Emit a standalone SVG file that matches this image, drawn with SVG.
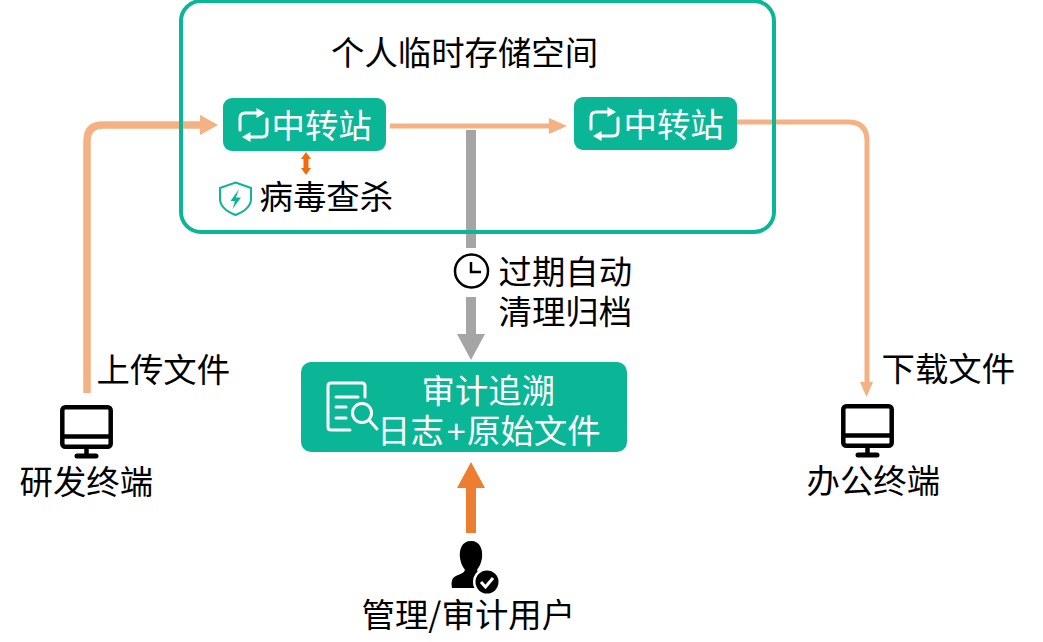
<svg xmlns="http://www.w3.org/2000/svg" width="1043" height="642" viewBox="0 0 1043 642">
<defs>
<style>
text{font-family:"Liberation Sans","Noto Sans CJK SC",sans-serif;font-size:33.4px;fill:#000}
.cjk{font-family:"Noto Sans CJK SC",sans-serif}
.w{fill:#fff}
.box{fill:#0BB696}
.ic{fill:none;stroke:#fff;stroke-width:3;stroke-linecap:round;stroke-linejoin:round}
.mon{fill:none;stroke:#000;stroke-width:4.5;stroke-linejoin:round}
.pe{fill:none;stroke:#F4B183}
.pf{fill:#F4B183}
</style>
<g id="rep"><path class="ic" d="M258 113H245Q240 113 240 118V130M267 119V132Q267 137 262 137H249"/><path d="M256.500 108L265 113L256.500 118Z" fill="#fff"/><path d="M250.500 132L242 137L250.500 142Z" fill="#fff"/></g>
<g id="monitor"><rect class="mon" x="2.300" y="2.300" width="48.400" height="39.400" rx="3"/><path d="M2 31.500H51" class="mon"/><path d="M26.500 42V50" class="mon"/><path d="M17 51H36" stroke="#000" stroke-width="5" stroke-linecap="round"/></g>
</defs>
<g id="connectors">
<path class="pe" stroke-width="7.500" d="M87 393V141Q87 125 103 125H200"/>
<path class="pf" d="M200 115L218 125L200 135Z"/>
<path class="pe" stroke-width="5" d="M390 126H550"/>
<path class="pf" d="M549 118L567 126L549 134Z"/>
<path class="pe" stroke-width="5" d="M737 122H848Q867 122 867 141V383"/>
<path class="pf" d="M860 382H873L866.500 397Z"/>
<path fill="#A5A5A5" d="M466 130H476V248H466ZM466 297H476V334H485L471 360L457 334H466Z"/>
<path fill="#ED7D31" d="M466 533V488H457L471 462L485 488H476V533Z"/>
<path fill="#F26B0F" d="M306 152L311 159H308.500V168H311L306 175L301 168H303.500V159H301Z"/>
</g>
<g id="space"><rect x="181" y="1" width="593" height="231" rx="20" fill="none" stroke="#0BB696" stroke-width="4"/><text x="331" y="65">个人临时存储空间</text></g>
<g id="relay1"><rect class="box" x="223" y="98" width="163" height="53" rx="9"/><use href="#rep"/><text class="w" x="271.500" y="138">中转站</text></g>
<g id="relay2"><rect class="box" x="574" y="97" width="163" height="53" rx="9"/><use href="#rep" x="351" y="-1"/><text class="w" x="623.500" y="137">中转站</text></g>
<g id="virus"><path d="M235.500 182.500L251 188V199C251 207 243 212 235.500 215C228 212 220 207 220 199V188Z" fill="none" stroke="#0BB696" stroke-width="2"/><path d="M239 189L230.500 201H235L232.500 209L241 197.500H236Z" fill="#0BB696"/><text x="259.500" y="209">病毒查杀</text></g>
<g id="expire"><circle cx="471.500" cy="271" r="16.500" fill="none" stroke="#000" stroke-width="2.500"/><path d="M471 262V272H481" fill="none" stroke="#000" stroke-width="2.500"/><text x="498.500" y="284">过期自动</text><text x="498.500" y="324">清理归档</text></g>
<g id="audit"><rect class="box" x="301" y="362" width="326" height="90" rx="10"/>
<path class="ic" d="M365 397V386Q365 383 362 383H331Q328 383 328 386V427Q328 430 331 430H350M336 397H358M336 407H346M336 418H346"/><circle class="ic" cx="362" cy="413" r="9.500"/><path class="ic" d="M369 420L377 429"/>
<text class="w" x="421.500" y="403">审计追溯</text><text class="w" x="377" y="443">日志<tspan x="446.500">+</tspan><tspan x="467">原始文件</tspan></text></g>
<g id="dev"><use href="#monitor" x="60" y="405"/><text x="96.500" y="382">上传文件</text><text x="19.500" y="494">研发终端</text></g>
<g id="office"><use href="#monitor" x="841" y="404"/><text x="881.500" y="381">下载文件</text><text x="806.500" y="493">办公终端</text></g>
<g id="admin"><path d="M471 541C480 541 483 549 482 558C481 564 479 567 477 570C478 573 480 574 483 575L478 588H452C451 581 452 578 456 576C460 574 464 573 465 570C463 567 461 564 460 558C459 549 462 541 471 541Z" fill="#000"/><circle cx="487" cy="582" r="14" fill="#fff"/><circle cx="487" cy="582" r="11.500" fill="#000"/><path d="M481 582L485.500 587L493 578" fill="none" stroke="#fff" stroke-width="3"/><text class="cjk" x="361.500" y="627">管理/<tspan x="441.500">审计用户</tspan></text></g>
</svg>
